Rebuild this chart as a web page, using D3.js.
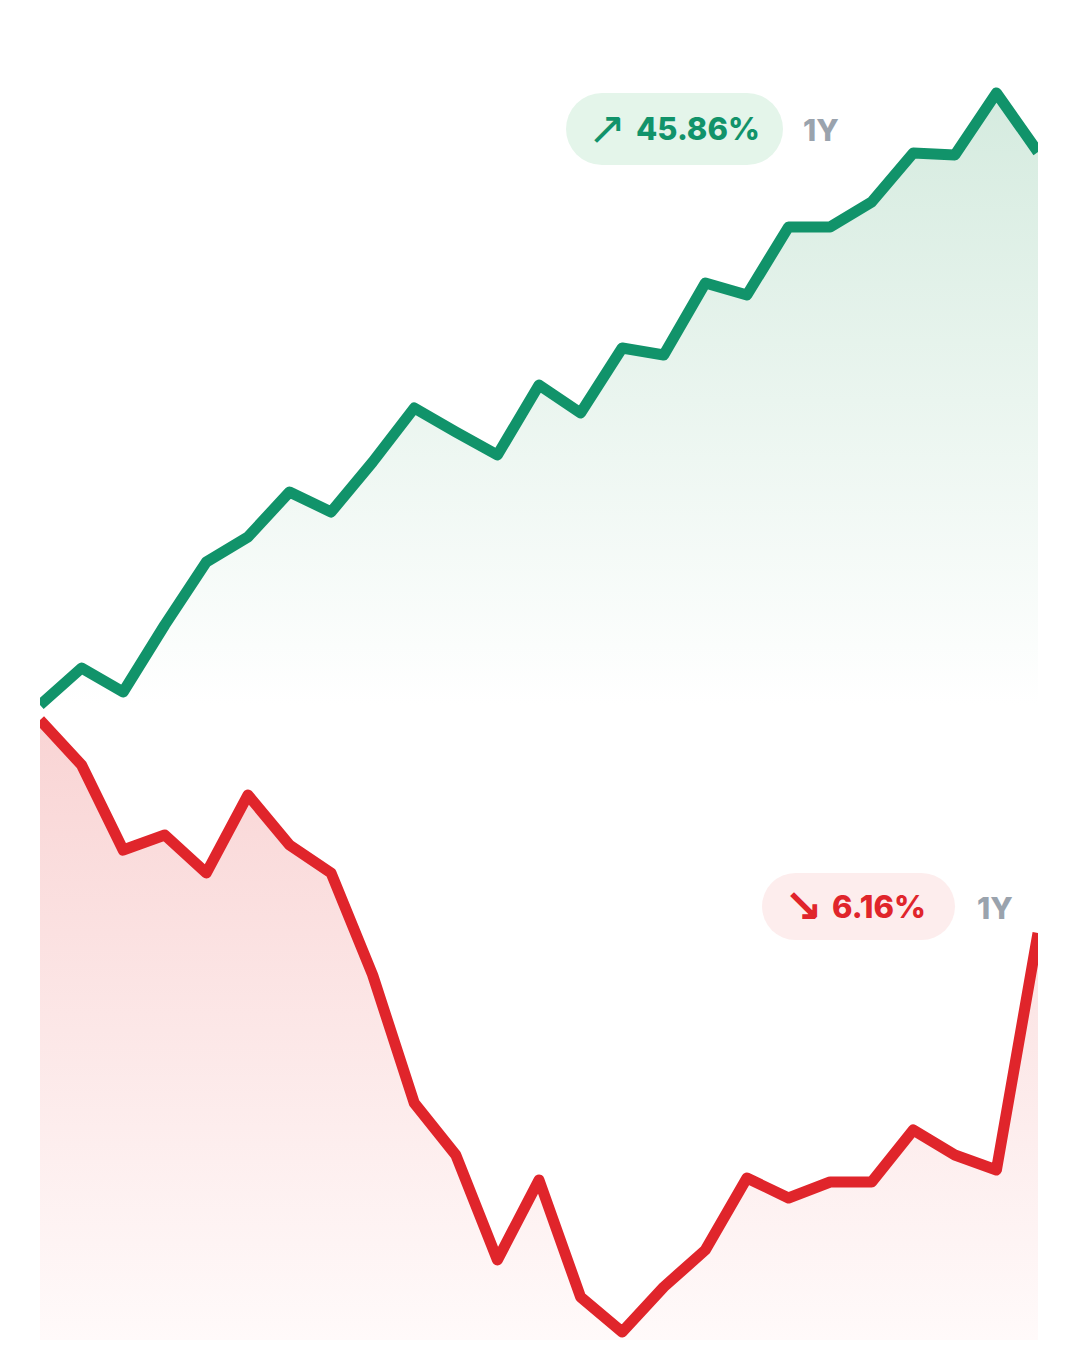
<!DOCTYPE html>
<html>
<head>
<meta charset="utf-8">
<script src="https://cdn.jsdelivr.net/npm/d3@7"></script>
<style>
  html, body { margin: 0; padding: 0; background: #fff; }
  svg { display: block; }
</style>
</head>
<body>
<svg id="chart"></svg>
<script>
// index values (one point per period)
const periods = d3.range(25);
const upValues = [0, 3.7, 1.3, 8.0, 14.3, 16.8, 21.3, 19.3, 24.3, 29.7, 27.3, 25.0, 32.0,
  29.2, 35.7, 35.0, 42.2, 41.0, 47.8, 47.8, 50.3, 55.2, 55.0, 61.2, 55.3];
const downValues = [62.0, 57.5, 49.0, 50.5, 46.7, 54.5, 49.5, 46.7, 36.5, 23.7, 18.5, 8.0, 16.0,
  4.3, 0.8, 5.3, 9.0, 16.2, 14.2, 15.8, 15.8, 21.0, 18.5, 17.0, 40.7];
const upLabel = "45.86%";
const downLabel = "6.16%";
const periodLabel = "1Y";

const width = 1080, height = 1350;
const margin = {left: 40, right: 42};

const svg = d3.select("#chart")
  .attr("width", width)
  .attr("height", height)
  .attr("viewBox", [0, 0, width, height]);

const defs = svg.append("defs");

let x = d3.scalePoint()
  .domain(periods)
  .range([margin.left, width - margin.right]);

let yUp = d3.scaleLinear().domain([0, 60]).range([705, 105]);
let yDown = d3.scaleLinear().domain([0, 62]).range([1340, 720]);

defs.append("clipPath").attr("id", "clip")
  .append("rect")
  .attr("x", margin.left).attr("y", 0)
  .attr("width", width - margin.right - margin.left).attr("height", height);

function gradient(id, y1, y2, c1, c2) {
  const g = defs.append("linearGradient").attr("id", id)
    .attr("gradientUnits", "userSpaceOnUse")
    .attr("x1", 0).attr("x2", 0).attr("y1", y1).attr("y2", y2);
  g.append("stop").attr("offset", 0).attr("stop-color", c1);
  g.append("stop").attr("offset", 1).attr("stop-color", c2);
}
gradient("gUp", yUp(61), yUp(0), "#d5ebdf", "#ffffff");
gradient("gDown", yDown(62), yDown(0), "#f9d4d4", "#fffafa");

function drawSeries(values, y, stroke, fill) {
  const g = svg.append("g").attr("clip-path", "url(#clip)");
  g.append("path")
    .datum(values)
    .attr("fill", fill)
    .attr("d", d3.area()
      .x((d, i) => x(i))
      .y0(y(0))
      .y1(d => y(d)));
  g.append("path")
    .datum(values)
    .attr("fill", "none")
    .attr("stroke", stroke)
    .attr("stroke-width", 11)
    .attr("stroke-linejoin", "round")
    .attr("d", d3.line()
      .x((d, i) => x(i))
      .y(d => y(d)));
}

drawSeries(upValues, yUp, "#11936a", "url(#gUp)");
drawSeries(downValues, yDown, "#e0252b", "url(#gDown)");

// change badges
function badge(px, py, w, h, bg, color, arrow, arrowW, label, tagX) {
  const g = svg.append("g");
  g.append("rect")
    .attr("x", px).attr("y", py)
    .attr("width", w).attr("height", h)
    .attr("rx", h / 2)
    .attr("fill", bg);
  g.append("text")
    .attr("x", px + 22).attr("y", py + h / 2 + 15)
    .attr("font-family", "DejaVu Sans")
    .attr("font-size", 46)
    .attr("font-weight", arrowW)
    .attr("fill", color)
    .text(arrow);
  g.append("text")
    .attr("x", px + 70).attr("y", py + h / 2 + 11)
    .attr("font-family", "Inter, 'Open Sans', sans-serif")
    .attr("font-weight", 800)
    .attr("font-size", 31)
    .attr("fill", color)
    .text(label);
  g.append("text")
    .attr("x", tagX).attr("y", py + h / 2 + 12)
    .attr("font-family", "Inter, 'Open Sans', sans-serif")
    .attr("font-weight", 800)
    .attr("font-size", 30)
    .attr("fill", "#9aa3ad")
    .text(periodLabel);
}

badge(566, 93, 217, 72, "#e4f5ea", "#11936a", "↗", 400, upLabel, 803);
badge(762, 873, 193, 67, "#fdeded", "#e0252b", "↘", 700, downLabel, 977);
</script>
</body>
</html>
